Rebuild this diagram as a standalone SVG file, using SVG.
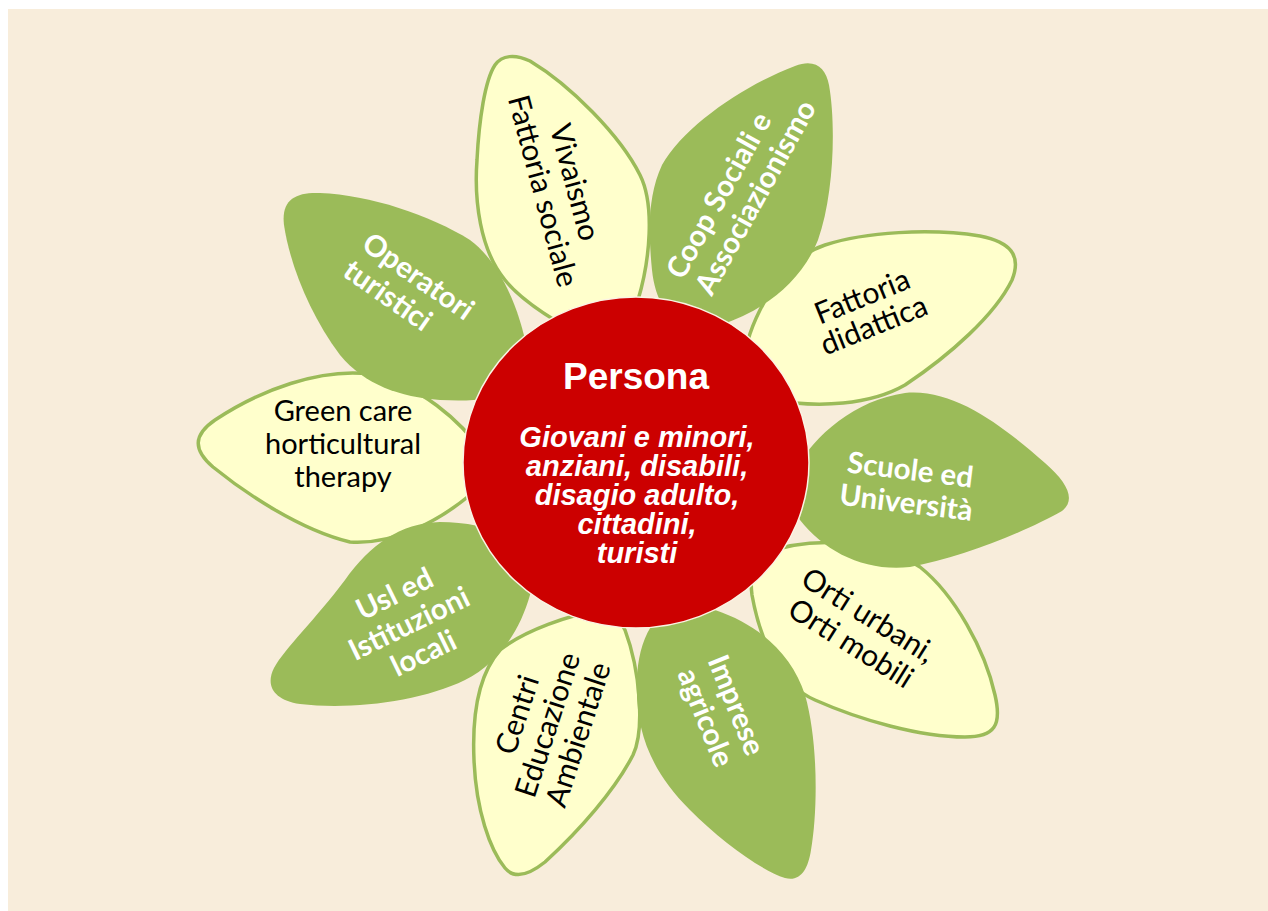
<svg xmlns="http://www.w3.org/2000/svg" width="1268" height="911" viewBox="0 0 1268 911">
<style>
.lp{fill:#FFFFCC;stroke:#9BBB59;stroke-width:3.5;stroke-linejoin:round}
.gp{fill:#9BBB59;stroke:none}
.lt{font-family:Lato,"Open Sans",sans-serif;font-size:30px;fill:#000;text-anchor:middle}
.gt{font-family:Lato,"Open Sans",sans-serif;font-size:29.5px;font-weight:bold;fill:#fff;text-anchor:middle}
.st{text-anchor:start}
</style>
<rect x="0" y="0" width="1268" height="911" fill="#fff"/>
<rect x="8" y="9" width="1260" height="902" fill="#F8EDDB"/>
<g id="petal-vivaismo">
<path class="lp" d="M 600,345 C 570,330 525,305 505,280 C 480,250 474,200 477,160 C 479,120 485,80 495,65 C 502,55 515,54 530,61 C 570,85 620,135 640,175 C 655,205 650,260 638,300 C 630,320 615,335 600,345 Z"/>
<text class="lt" transform="translate(565,185) rotate(75)"><tspan x="0" y="0">Vivaismo</tspan><tspan x="0" y="33">Fattoria sociale</tspan></text>
</g>
<g id="petal-fattoria-didattica">
<path class="lp" d="M 750,395 C 738,370 745,340 760,310 C 775,280 795,255 825,245 C 865,232 930,228 980,236 C 1010,242 1022,255 1012,280 C 995,315 950,355 905,385 C 870,405 820,408 770,400 C 760,398 755,397 750,395 Z"/>
<text class="lt" transform="translate(866,306) rotate(-22)"><tspan x="0" y="0">Fattoria</tspan><tspan x="0" y="31">didattica</tspan></text>
</g>
<g id="petal-orti">
<path class="lp" d="M 760,555 C 800,538 870,535 920,567 C 955,595 985,650 995,695 C 1002,725 995,737 965,737 C 920,737 860,720 815,700 C 780,685 760,640 752,595 C 750,580 752,565 760,555 Z"/>
<text class="lt" transform="translate(863,624) rotate(32)"><tspan x="0" y="0">Orti urbani,</tspan><tspan x="0" y="33">Orti mobili</tspan></text>
</g>
<g id="petal-centri">
<path class="lp" d="M 600,610 C 570,615 525,630 500,650 C 478,675 472,715 474,760 C 476,810 490,850 505,868 C 515,880 530,874 545,862 C 580,830 615,790 633,755 C 645,730 640,670 625,630 C 620,620 610,612 600,610 Z"/>
<text class="lt" transform="translate(527,718) rotate(-72)"><tspan x="0" y="0">Centri</tspan><tspan x="0" y="32">Educazione</tspan><tspan x="0" y="64">Ambientale</tspan></text>
</g>
<g id="petal-green-care">
<path class="lp" d="M 485,455 C 460,420 420,385 370,374 C 320,368 260,390 215,420 C 193,435 193,450 213,467 C 245,493 300,530 350,542 C 395,545 440,520 470,495 C 480,485 485,470 485,455 Z"/>
<text class="lt" x="343" y="421" style="font-size:29px">Green care</text>
<text class="lt" x="343" y="454" style="font-size:29px">horticultural</text>
<text class="lt" x="343" y="487" style="font-size:29px">therapy</text>
</g>
<g id="petal-coop">
<path class="gp" d="M 690,335 C 668,320 655,300 652,270 C 648,230 648,195 662,165 C 685,125 745,85 795,66 C 815,58 826,68 829,85 C 836,125 834,195 818,240 C 800,285 760,312 720,325 C 705,330 695,333 690,335 Z"/>
<text class="gt st" transform="translate(683,281) rotate(-61)"><tspan x="0" y="0">Coop Sociali e</tspan><tspan x="0" y="33">Associazionismo</tspan></text>
</g>
<g id="petal-scuole">
<path class="gp" d="M 795,470 C 815,435 855,400 905,393 C 955,388 1005,428 1045,463 C 1068,483 1076,500 1062,511 C 1025,532 960,558 910,567 C 865,572 825,552 800,520 C 795,510 793,490 795,470 Z"/>
<text class="gt" transform="translate(909,480) rotate(7)"><tspan x="0" y="0">Scuole ed</tspan><tspan x="0" y="33">Università</tspan></text>
</g>
<g id="petal-imprese">
<path class="gp" d="M 690,600 C 655,605 638,640 637,680 C 635,730 650,770 690,810 C 720,840 760,870 785,878 C 800,882 808,870 811,850 C 818,810 818,740 805,695 C 792,655 760,625 715,610 C 705,606 697,602 690,600 Z"/>
<text class="gt" transform="translate(727,709) rotate(68)"><tspan x="0" y="0">Imprese</tspan><tspan x="0" y="33">agricole</tspan></text>
</g>
<g id="petal-usl">
<path class="gp" d="M 540,560 C 520,535 480,522 440,522 C 400,523 370,545 345,580 C 315,620 285,648 274,668 C 265,686 274,700 300,704 C 350,710 420,702 465,680 C 500,662 520,630 530,595 C 535,580 538,570 540,560 Z"/>
<text class="gt" transform="translate(399,603) rotate(-26)"><tspan x="0" y="0">Usl ed</tspan><tspan x="0" y="33">Istituzioni</tspan><tspan x="0" y="66">locali</tspan></text>
</g>
<g id="petal-operatori">
<path class="gp" d="M 525,385 C 510,398 480,402 440,400 C 400,397 365,385 340,355 C 310,315 290,265 284,225 C 281,200 295,192 320,193 C 370,195 430,215 470,240 C 500,262 520,310 527,350 C 528,365 528,375 525,385 Z"/>
<text class="gt st" transform="translate(360,248) rotate(35)"><tspan x="0" y="0">Operatori</tspan><tspan x="0" y="33">turistici</tspan></text>
</g>
<g id="persona">
<ellipse cx="636" cy="462.5" rx="173" ry="165.5" fill="#CC0000" stroke="#FBF3E4" stroke-width="1.5"/>
<text x="636" y="389" font-family="'Liberation Sans',Arial,sans-serif" font-size="37" font-weight="bold" fill="#fff" text-anchor="middle">Persona</text>
<text font-family="'Liberation Sans',Arial,sans-serif" font-size="29" font-weight="bold" font-style="italic" fill="#fff" text-anchor="middle"><tspan x="637" y="447">Giovani e minori,</tspan><tspan x="637" y="476">anziani, disabili,</tspan><tspan x="637" y="505">disagio adulto,</tspan><tspan x="637" y="534">cittadini,</tspan><tspan x="637" y="563">turisti</tspan></text>
</g>
</svg>
